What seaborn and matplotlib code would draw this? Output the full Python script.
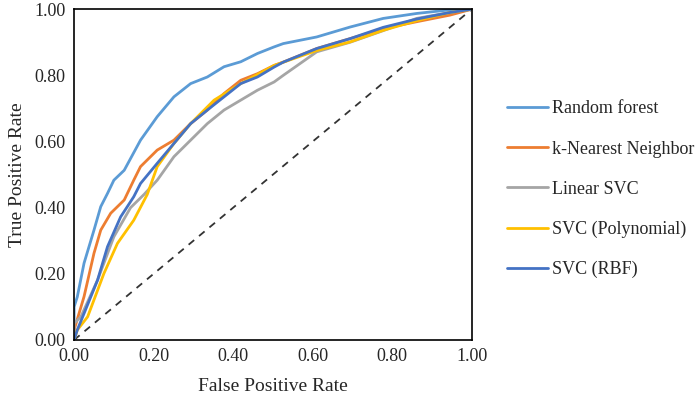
#!/usr/bin/env python3
"""ROC curves for the five classifiers."""
import matplotlib
matplotlib.use("Agg")
import matplotlib.pyplot as plt
import seaborn as sns
import pandas as pd

MODELS = ["Random forest", "k-Nearest Neighbor", "Linear SVC",
          "SVC (Polynomial)", "SVC (RBF)"]
COLORS = ["#5B9BD5", "#ED7D31", "#A5A5A5", "#FFC000", "#4472C4"]

rf_fpr = [0.0, 0.0, 0.008, 0.025, 0.05, 0.067, 0.084, 0.10, 0.126, 0.167, 0.209, 0.251, 0.293,
          0.335, 0.377, 0.419, 0.461, 0.503, 0.526, 0.61, 0.694, 0.777, 0.861, 0.945, 1.0]
rf_tpr = [0.0, 0.10, 0.13, 0.232, 0.332, 0.403, 0.443, 0.483, 0.513, 0.604, 0.675, 0.735, 0.775,
          0.795, 0.826, 0.841, 0.866, 0.886, 0.896, 0.916, 0.946, 0.972, 0.987, 0.998, 1.0]

knn_fpr = [0.0, 0.0, 0.025, 0.05, 0.067, 0.092, 0.126, 0.15, 0.167, 0.209, 0.251, 0.293, 0.335,
           0.377, 0.419, 0.461, 0.503, 0.526, 0.61, 0.694, 0.777, 0.861, 0.945, 1.0]
knn_tpr = [0.0, 0.03, 0.131, 0.262, 0.332, 0.383, 0.423, 0.483, 0.524, 0.574, 0.604, 0.654, 0.695,
           0.745, 0.785, 0.805, 0.83, 0.84, 0.881, 0.911, 0.941, 0.962, 0.982, 1.0]

lin_fpr = [0.0, 0.0, 0.017, 0.059, 0.10, 0.142, 0.176, 0.209, 0.251, 0.293, 0.335, 0.377, 0.419,
           0.461, 0.503, 0.526, 0.61, 0.694, 0.777, 0.861, 0.945, 1.0]
lin_tpr = [0.0, 0.05, 0.07, 0.181, 0.312, 0.40, 0.44, 0.483, 0.554, 0.604, 0.654, 0.695, 0.725,
           0.755, 0.78, 0.80, 0.871, 0.90, 0.935, 0.972, 0.99, 1.0]

poly_fpr = [0.0, 0.008, 0.034, 0.075, 0.109, 0.15, 0.184, 0.209, 0.251, 0.293, 0.352, 0.419,
            0.503, 0.61, 0.694, 0.777, 0.861, 0.945, 1.0]
poly_tpr = [0.0, 0.03, 0.07, 0.201, 0.292, 0.362, 0.44, 0.524, 0.594, 0.654, 0.725, 0.775,
            0.83, 0.875, 0.901, 0.936, 0.965, 0.99, 1.0]

rbf_fpr = [0.0, 0.008, 0.025, 0.059, 0.084, 0.117, 0.15, 0.167, 0.209, 0.251, 0.293, 0.335,
           0.377, 0.419, 0.461, 0.503, 0.526, 0.61, 0.694, 0.777, 0.861, 0.945, 1.0]
rbf_tpr = [0.0, 0.03, 0.08, 0.181, 0.282, 0.372, 0.433, 0.473, 0.534, 0.594, 0.654, 0.695,
           0.735, 0.775, 0.795, 0.825, 0.84, 0.881, 0.911, 0.945, 0.97, 0.99, 1.0]

TICKS = [0.0, 0.2, 0.4, 0.6, 0.8, 1.0]


def build_frame():
    curves = [(rf_fpr, rf_tpr), (knn_fpr, knn_tpr), (lin_fpr, lin_tpr),
              (poly_fpr, poly_tpr), (rbf_fpr, rbf_tpr)]
    parts = []
    for name, (fpr, tpr) in zip(MODELS, curves):
        parts.append(pd.DataFrame({"fpr": fpr, "tpr": tpr, "model": name}))
    return pd.concat(parts, ignore_index=True)


def main():
    sns.set_theme(style="white")
    plt.rcParams["font.family"] = ["Liberation Serif", "DejaVu Serif"]

    df = build_frame()
    fig = plt.figure(figsize=(6.99, 3.99), dpi=100)
    ax = fig.add_axes([0.106, 0.148, 0.569, 0.829])

    ax.plot([0, 1], [0, 1], color="#333333", lw=1.3, ls=(0, (4, 3.5)))
    sns.lineplot(data=df, x="fpr", y="tpr", hue="model", hue_order=MODELS,
                 palette=COLORS, sort=False, estimator=None, lw=2.0, ax=ax)

    ax.set_xlim(0, 1)
    ax.set_ylim(0, 1)
    ax.set_xticks(TICKS)
    ax.set_yticks(TICKS)
    ax.set_xticklabels([f"{t:.2f}" for t in TICKS], fontsize=13)
    ax.set_yticklabels([f"{t:.2f}" for t in TICKS], fontsize=13)
    ax.tick_params(length=0, pad=6)
    for sp in ax.spines.values():
        sp.set_color("black")
        sp.set_linewidth(1.2)
    ax.set_xlabel("False Positive Rate", fontsize=14, labelpad=9)
    ax.set_ylabel("True Positive Rate", fontsize=14, labelpad=6)

    ax.legend(loc="center left", bbox_to_anchor=(1.07, 0.455), frameon=False,
              fontsize=13, handlelength=2.3, handletextpad=0.2,
              labelspacing=1.28, borderaxespad=0)
    for line in ax.get_legend().get_lines():
        line.set_linewidth(2.0)

    fig.savefig("out.png", dpi=100)


if __name__ == "__main__":
    main()
